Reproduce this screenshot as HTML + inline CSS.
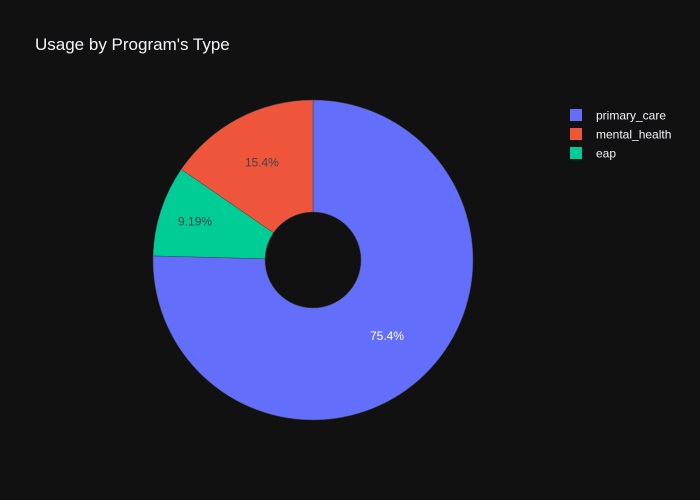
<!DOCTYPE html>
<html><head><meta charset="utf-8"><style>
body{margin:0;background:#111;}
svg{display:block;font-family:"Liberation Sans",sans-serif;}
</style></head><body>
<svg id="chart" width="700" height="500">
<rect width="700" height="500" fill="#111"/>
<text x="35" y="50" font-size="17" fill="#f2f5fa">Usage by Program's Type</text>
<g id="slices"></g>
<g id="legend"></g>
</svg>
<script>
const labels = ["primary_care","eap","mental_health"];
const values = [75.4, 9.19, 15.4];
const colors = ["#636efa","#00cc96","#ef553b"];
const legendOrder = ["primary_care","mental_health","eap"];
const textColors = ["#ffffff","#444444","#444444"];
const labelR = [106,124,110];
const cx=313, cy=260, R=160, r0=48;
const NS="http://www.w3.org/2000/svg";
const total = values.reduce((a,b)=>a+b,0);
const g=document.getElementById('slices');
function pt(a,rad){return [cx+rad*Math.sin(a), cy-rad*Math.cos(a)];}
let acc=0;
values.forEach((v,i)=>{
  const a0=acc/total*2*Math.PI; acc+=v; const a1=acc/total*2*Math.PI;
  const large=(a1-a0)>Math.PI?1:0;
  const p0=pt(a0,R),p1=pt(a1,R),q1=pt(a1,r0),q0=pt(a0,r0);
  const p=document.createElementNS(NS,'path');
  p.setAttribute('d',`M${p0}A${R},${R} 0 ${large} 1 ${p1}L${q1}A${r0},${r0} 0 ${large} 0 ${q0}Z`);
  p.setAttribute('fill',colors[i]);
  p.setAttribute('stroke','#444');p.setAttribute('stroke-width','0.5');
  
  
  g.appendChild(p);
  const am=(a0+a1)/2, tp=pt(am,labelR[i]);
  const t=document.createElementNS(NS,'text');
  t.setAttribute('x',tp[0]);t.setAttribute('y',tp[1]+4);
  t.setAttribute('text-anchor','middle');t.setAttribute('font-size','12');
  t.setAttribute('fill',textColors[i]);
  t.textContent=(v/total*100).toPrecision(3)+'%';
  
  
  g.appendChild(t);
});
const lg=document.getElementById('legend');
legendOrder.forEach((name,k)=>{
  const i=labels.indexOf(name);
  const y=115+k*19;
  const s=document.createElementNS(NS,'rect');
  s.setAttribute('x',570);s.setAttribute('y',y-6);s.setAttribute('width',12);s.setAttribute('height',12);
  s.setAttribute('fill',colors[i]);
  
  
  lg.appendChild(s);
  const t=document.createElementNS(NS,'text');
  t.setAttribute('x',596);t.setAttribute('y',y+4.5);t.setAttribute('font-size','12');t.setAttribute('fill','#f2f5fa');
  t.textContent=name;
  
  
  lg.appendChild(t);
});
</script>
</body></html>
